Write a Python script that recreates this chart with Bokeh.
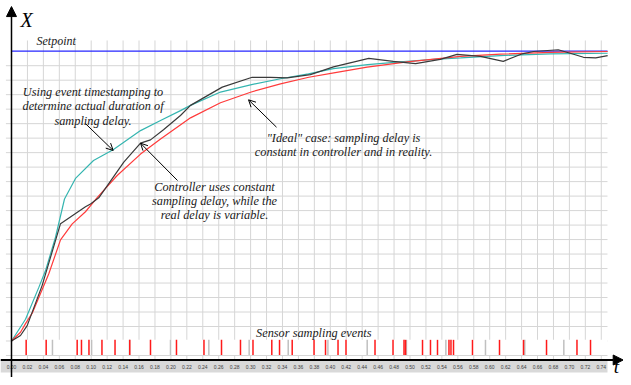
from bokeh.plotting import figure
from bokeh.models import Range1d, Arrow, NormalHead, OpenHead, ColumnDataSource
from bokeh.core.properties import value
from bokeh.embed import file_html
from bokeh.resources import INLINE

# ---------------- data ----------------
setpoint = 1.0

ideal_t = [0, 0.0113, 0.0176, 0.026, 0.0468, 0.0615, 0.0762, 0.0928, 0.1075, 0.1326, 0.1619,
           0.187, 0.2246, 0.2622, 0.2999, 0.3375, 0.373, 0.4044, 0.4462, 0.4965, 0.5634,
           0.6135, 0.676, 0.748]
ideal_x = [0, 0.030, 0.060, 0.096, 0.232, 0.349, 0.404, 0.446, 0.495, 0.571, 0.645,
           0.697, 0.770, 0.822, 0.8585, 0.8875, 0.910, 0.925, 0.945, 0.963, 0.982,
           0.990, 0.996, 0.999]

stamped_t = [0, 0.0176, 0.0343, 0.0427, 0.0552, 0.0665, 0.0803, 0.1029, 0.128, 0.1619, 0.187,
             0.212, 0.2246, 0.2622, 0.2999, 0.3375, 0.3726, 0.404, 0.4467, 0.488, 0.5295,
             0.5634, 0.6135, 0.676, 0.748]
stamped_x = [0, 0.075, 0.185, 0.243, 0.358, 0.490, 0.561, 0.623, 0.661, 0.726, 0.761,
             0.795, 0.813, 0.859, 0.884, 0.905, 0.922, 0.940, 0.954, 0.963, 0.972,
             0.977, 0.985, 0.991, 0.993]

const_t = [0, 0.0113, 0.0197, 0.0385, 0.0615, 0.0928, 0.0991, 0.1095, 0.1409, 0.1619, 0.1744,
           0.1907, 0.212, 0.2246, 0.2644, 0.302, 0.325, 0.346, 0.375, 0.404, 0.4483, 0.479,
           0.507, 0.538, 0.559, 0.5885, 0.617, 0.641, 0.655, 0.686, 0.701, 0.7177, 0.733, 0.748]
const_x = [0, 0.019, 0.053, 0.192, 0.405, 0.463, 0.473, 0.494, 0.617, 0.683, 0.694,
           0.729, 0.778, 0.813, 0.876, 0.910, 0.910, 0.908, 0.919, 0.946, 0.975, 0.965,
           0.957, 0.972, 0.989, 0.982, 0.965, 0.991, 0.999, 1.005, 0.993, 0.979, 0.977, 0.985]

events_red = [0.0184, 0.0435, 0.0824, 0.0878, 0.0972, 0.1135, 0.1299, 0.1484, 0.1744, 0.207,
              0.2415, 0.2635, 0.2873, 0.303, 0.3266, 0.3363, 0.3522, 0.3796, 0.394, 0.4097,
              0.4197, 0.4561, 0.4787, 0.4925, 0.4944, 0.5157, 0.5257, 0.5345, 0.5489, 0.5514,
              0.5546, 0.5784, 0.6123, 0.6424, 0.6713, 0.7095, 0.7265]
events_gray = [0.0514, 0.1005, 0.148, 0.1995, 0.2476, 0.2982, 0.3472, 0.397, 0.4463, 0.4955,
               0.545, 0.5947, 0.644, 0.693]

x_ticks = [round(0.02 * k, 2) for k in range(0, 38)]
x_tick_labels = ["%.2f" % v for v in x_ticks]
y_grid = [round(0.05 * k, 2) for k in range(-1, 20)]

T_END = 0.7478
GRID_TOP = 1.037

# ---------------- figure ----------------
p = figure(width=623, height=377, output_backend="svg", toolbar_location=None,
           x_range=Range1d(-0.0138, 0.76788), y_range=Range1d(-0.12595, 1.17495),
           x_axis_type=None, y_axis_type=None, min_border=0,
           min_border_left=0, min_border_right=0, min_border_top=0, min_border_bottom=0)
p.outline_line_color = None
p.background_fill_color = "white"
p.border_fill_color = "white"

grid_col = "#d6d6d6"
vx = x_ticks[1:]
p.segment(x0=vx, y0=[-0.0656] * len(vx), x1=vx, y1=[GRID_TOP] * len(vx),
          line_color=grid_col, line_width=1)
p.segment(x0=[-0.007] * len(y_grid), y0=y_grid, x1=[T_END] * len(y_grid), y1=y_grid,
          line_color=grid_col, line_width=1)

# white strip for sensor events
p.quad(left=0.0015, right=T_END, bottom=-0.0483, top=0.004, fill_color="white", line_color=None)
p.segment(x0=events_gray, y0=[-0.0483] * len(events_gray), x1=events_gray,
          y1=[0.004] * len(events_gray), line_color="#c0c0c0", line_width=1.5)
p.segment(x0=events_red, y0=[-0.0483] * len(events_red), x1=events_red,
          y1=[0.004] * len(events_red), line_color="#ff1a1a", line_width=1.5)

# tick label band
p.quad(left=-0.0138, right=T_END, bottom=-0.1087, top=-0.0673, fill_color="#d9d9d9", line_color=None)
p.text(x=x_ticks, y=[-0.088] * len(x_ticks), text=x_tick_labels,
       text_font=value("Liberation Sans"), text_font_size="5px", text_color="#404040",
       text_align="center", text_baseline="middle")

# setpoint
p.line([0, T_END], [setpoint, setpoint], line_color="#2626ff", line_width=1.2)

# curves
p.line(stamped_t, stamped_x, line_color="#35b5b0", line_width=1.2)
p.line(ideal_t, ideal_x, line_color="#ff3b3b", line_width=1.2)
p.line(const_t, const_x, line_color="#3a3a3a", line_width=1.2)

# axes with arrows
p.add_layout(Arrow(end=NormalHead(size=10, fill_color="black", line_color="black"),
                   x_start=-0.0138, y_start=-0.0656, x_end=0.7675, y_end=-0.0656,
                   line_color="black", line_width=1.8))
p.add_layout(Arrow(end=NormalHead(size=10, fill_color="black", line_color="black"),
                   x_start=0.0, y_start=-0.13, x_end=0.0, y_end=1.154,
                   line_color="black", line_width=1.5))

serif = value("Liberation Serif")
p.text(x=[0.0113], y=[1.106], text=["X"], text_font=serif, text_font_style="italic",
       text_font_size="20px", text_color="black", text_align="left", text_baseline="alphabetic")
p.text(x=[0.7590], y=[-0.1255], text=["t"], text_font=serif, text_font_style="italic",
       text_font_size="19px", text_color="black", text_align="center", text_baseline="bottom")

p.text(x=[0.0314], y=[1.0335], text=["Setpoint"], text_font=serif, text_font_style="italic",
       text_font_size="12px", text_color="#1a1a1a", text_align="left", text_baseline="alphabetic")

ann = ColumnDataSource(dict(
    x=[0.1023, 0.1023, 0.1023, 0.2547, 0.2547, 0.2547, 0.4166, 0.4166, 0.3793],
    y=[0.8585, 0.8092, 0.760, 0.5314, 0.4831, 0.4348, 0.7012, 0.6515, 0.0259],
    text=["Using event timestamping to", "determine actual duration of", "sampling delay.",
          "Controller uses constant", "sampling delay, while the", "real delay is variable.",
          "\"Ideal\" case: sampling delay is", "constant in controller and in reality.",
          "Sensor sampling events"]))
p.text(x="x", y="y", text="text", source=ann, text_font=serif, text_font_style="italic",
       text_font_size="12.3px", text_color="#1a1a1a", text_align="center", text_baseline="alphabetic")

for xs, ys, xe, ye in [(0.0928, 0.7502, 0.1276, 0.6574),
                       (0.2083, 0.5538, 0.1619, 0.6825),
                       (0.3325, 0.7378, 0.2974, 0.8323)]:
    p.add_layout(Arrow(end=OpenHead(size=7, line_color="black", line_width=1),
                       x_start=xs, y_start=ys, x_end=xe, y_end=ye,
                       line_color="black", line_width=1))

open("out.html", "w").write(file_html(p, INLINE))
